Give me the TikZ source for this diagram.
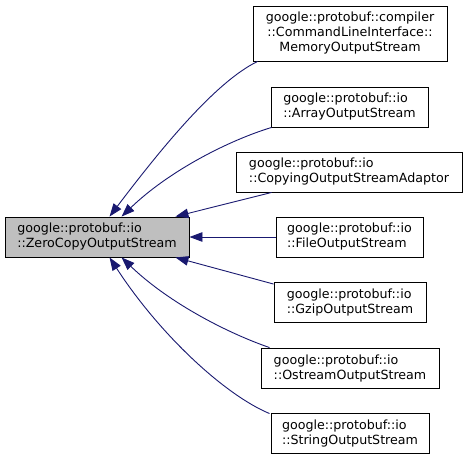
\documentclass[tikz,border=0pt]{standalone}
\usepackage{fontspec}
\setmainfont{DejaVu Sans}
\usetikzlibrary{arrows.meta}
\definecolor{edgeblue}{HTML}{191970}
\definecolor{mainfill}{HTML}{BFBFBF}
\begin{document}
\begin{tikzpicture}[x=1pt,y=-1pt,
  cls/.style={draw=black,line width=0.9pt,fill=white,inner sep=0pt,align=left,
    font=\fontsize{12.65}{15}\selectfont,minimum height=40pt},
  edge/.style={draw=edgeblue,line width=0.9pt,-{Triangle[length=13pt,width=9.5pt]}}]
\useasboundingbox (0,0) rectangle (468,459);
\node[cls,fill=mainfill,minimum width=184pt] (main) at (97,237) {google::protobuf::io\\::ZeroCopyOutputStream};
\node[cls,align=center,minimum width=194pt,minimum height=55pt] (mem) at (350,33.5) {google::protobuf::compiler\\::CommandLineInterface::\\MemoryOutputStream};
\node[cls,minimum width=157pt] (arr) at (349.5,107) {google::protobuf::io\\::ArrayOutputStream};
\node[cls,minimum width=226pt] (cop) at (349,172) {google::protobuf::io\\::CopyingOutputStreamAdaptor};
\node[cls,minimum width=147pt] (file) at (349.5,237) {google::protobuf::io\\::FileOutputStream};
\node[cls,minimum width=152pt] (gz) at (350,302.5) {google::protobuf::io\\::GzipOutputStream};
\node[cls,minimum width=178pt] (ost) at (350,368) {google::protobuf::io\\::OstreamOutputStream};
\node[cls,minimum width=158pt] (str) at (350,433) {google::protobuf::io\\::StringOutputStream};
\draw[edge] ([xshift=5pt]mem.south west) .. controls (215,82) and (160,150) .. ([xshift=105pt]main.north west);
\draw[edge] ([xshift=1pt]arr.south west) .. controls (230,140) and (170,170) .. ([xshift=117pt]main.north west);
\draw[edge] ([xshift=36pt]cop.south west) -- ([xshift=-14pt]main.north east);
\draw[edge] (file.west) -- (main.east);
\draw[edge] ([yshift=-2pt]gz.north west) -- ([xshift=-14pt]main.south east);
\draw[edge] ([xshift=9pt]ost.north west) .. controls (230,334) and (170,304) .. ([xshift=117pt]main.south west);
\draw[edge] ([xshift=-1pt,yshift=-1pt]str.north west) .. controls (225,395) and (160,335) .. ([xshift=105pt]main.south west);
\end{tikzpicture}
\end{document}
